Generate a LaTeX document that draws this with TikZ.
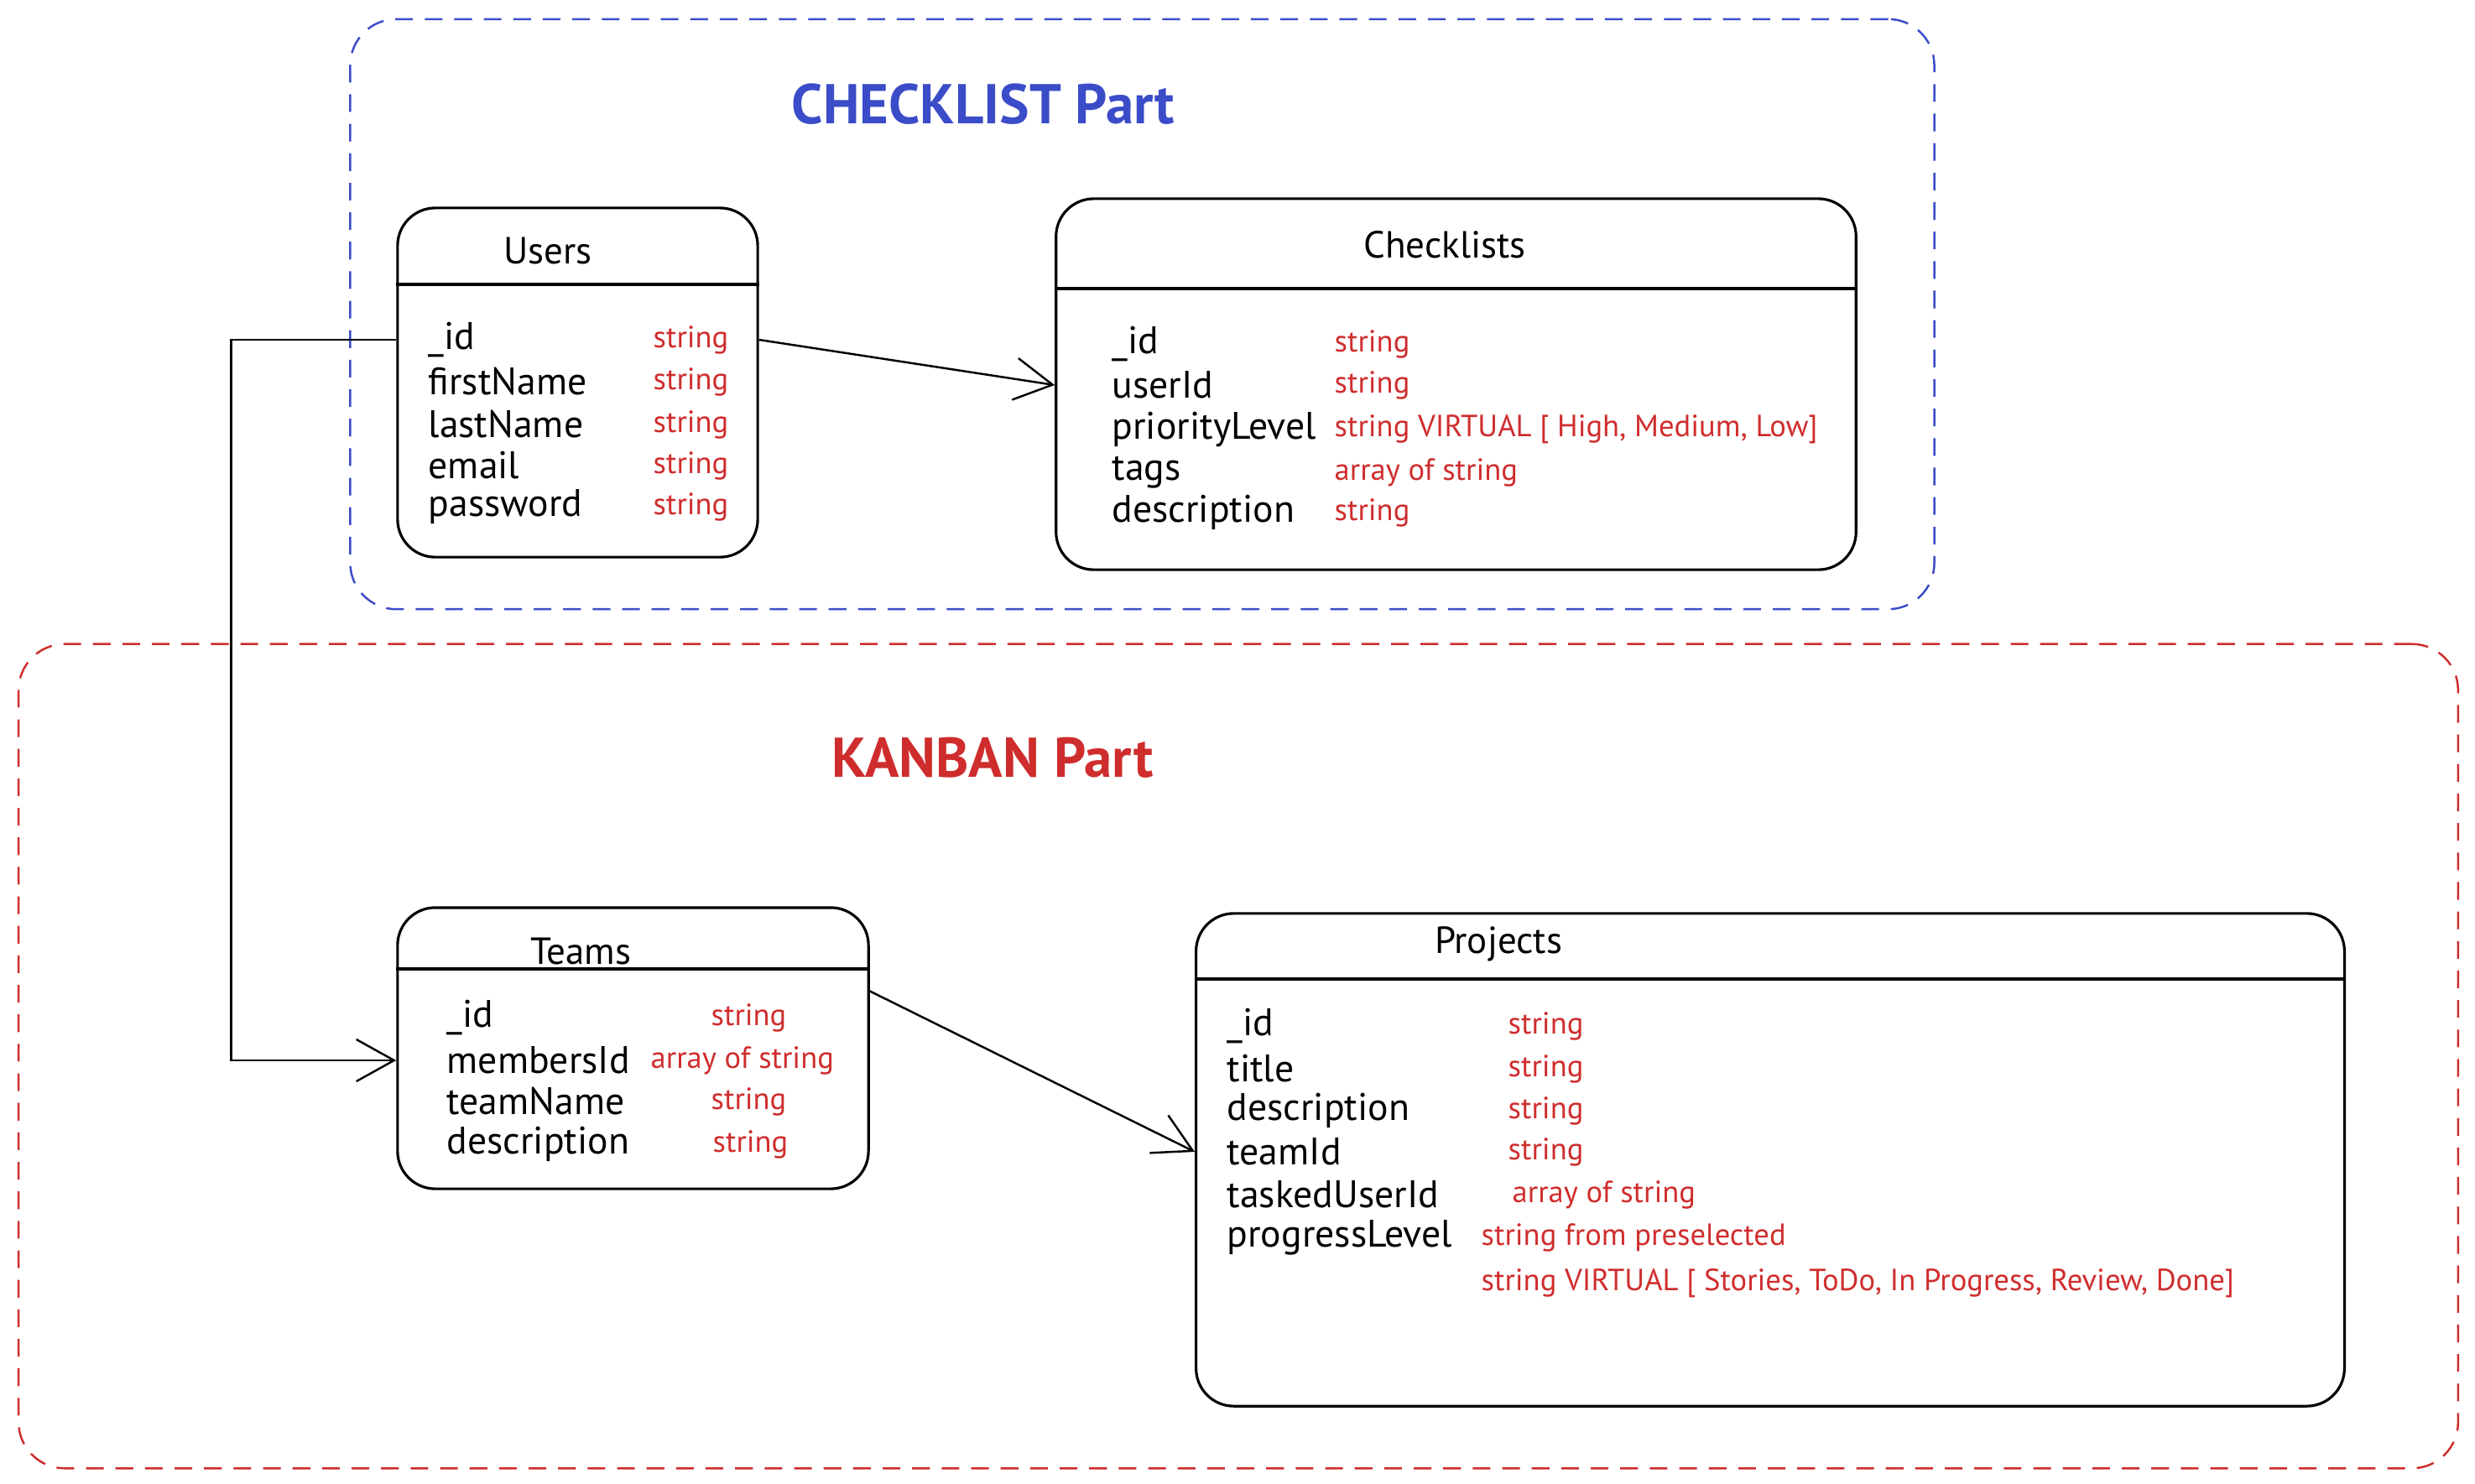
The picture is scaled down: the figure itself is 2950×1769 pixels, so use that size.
\documentclass[tikz,border=0pt]{standalone}
\usepackage{fontspec}
\setmainfont{PT Sans}
\usetikzlibrary{arrows.meta,positioning}
\definecolor{chkblue}{HTML}{3B4CC8}
\definecolor{kanred}{HTML}{CF2D2D}
\tikzset{
  partframe/.style={draw=#1, line width=0.7pt, dash pattern=on 6pt off 4pt, rounded corners=5.5mm, inner sep=0pt},
  parttitle/.style={font=\fontsize{19}{22}\selectfont\bfseries},
  tbl/.style={draw, line width=0.9pt, rounded corners=4.5mm, inner sep=0pt},
  hdr/.style={line width=1.1pt},
  ttl/.style={font=\fontsize{12.8}{15}\selectfont},
  fld/.style={anchor=west, inner sep=0pt, font=\fontsize{13}{15}\selectfont},
  typ/.style={anchor=west, inner sep=0pt, text=kanred, font=\fontsize{10.4}{12}\selectfont},
  link/.style={line width=0.7pt, -{Straight Barb[length=4.5mm,width=5mm]}}
}
\begin{document}
\begin{tikzpicture}[x=0.01cm, y=-0.01cm]
  \useasboundingbox (0,0) rectangle (2950,1769);
  % the two parts
  \node[partframe=chkblue, minimum width=18.87cm, minimum height=7.03cm] (chkframe) at (1361.5,374.5) {};
  \node[partframe=kanred, minimum width=29.06cm, minimum height=9.82cm] (kanframe) at (1476,1259) {};
  \node[parttitle, text=chkblue] (chktitle) at (1172,124) {CHECKLIST Part};
  \node[parttitle, text=kanred] (kantitle) at (1183,903) {KANBAN Part};

  % Users
  \node[tbl, minimum width=4.29cm, minimum height=4.16cm] (users) at (688.5,456) {};
  \node[ttl] (userstitle) at (653,299) {Users};
  \draw[hdr] (users.west |- 0,339) -- (users.east |- 0,339);
  \foreach \f/\t/\y [count=\i] in {\_id/string/405, firstName/string/455, lastName/string/506, email/string/555, password/string/604}{
    \node[fld] (u\i) at (510,\y) {\f};
    \node[typ] (ut\i) at (778,\y) {\t};
  }

  % Checklists
  \node[tbl, minimum width=9.53cm, minimum height=4.42cm] (checklists) at (1735.5,458) {};
  \node[ttl] (checkliststitle) at (1722,292) {Checklists};
  \draw[hdr] (checklists.west |- 0,344) -- (checklists.east |- 0,344);
  \foreach \f/\t/\y [count=\i] in {\_id/string/410, userId/string/459, priorityLevel/{string VIRTUAL [ High, Medium, Low]}/512, tags/array of string/563, description/string/611}{
    \node[fld] (c\i) at (1325,\y) {\f};
    \node[typ] (ct\i) at (1590,\y) {\t};
  }

  % Teams
  \node[tbl, minimum width=5.61cm, minimum height=3.35cm] (teams) at (754.5,1249.5) {};
  \node[ttl] (teamstitle) at (692,1134) {Teams};
  \draw[hdr] (teams.west |- 0,1155) -- (teams.east |- 0,1155);
  \foreach \f/\t/\y/\x [count=\i] in {\_id/string/1213/847, membersId/array of string/1264/775, teamName/string/1313/847, description/string/1364/849}{
    \node[fld] (t\i) at (532,\y) {\f};
    \node[typ] (tt\i) at (\x,\y) {\t};
  }

  % Projects
  \node[tbl, minimum width=13.68cm, minimum height=5.87cm] (projects) at (2110,1382.5) {};
  \node[ttl] (projectstitle) at (1786,1125) {Projects};
  \draw[hdr] (projects.west |- 0,1167) -- (projects.east |- 0,1167);
  \foreach \f/\t/\y/\x [count=\i] in {\_id/string/1223/1797, title/string/1274/1797, description/string/1324/1797, teamId/string/1373/1797, taskedUserId/array of string/1424/1802, progressLevel/string from preselected/1475/1765}{
    \node[fld] (p\i) at (1462,\y) {\f};
    \node[typ] (pt\i) at (\x,\y) {\t};
  }
  \node[typ] (pt7) at (1765,1530) {string VIRTUAL [ Stories, ToDo, In Progress, Review, Done]};

  % relations
  \draw[link] (users.east |- u1) -- (checklists.west |- c2);
  \draw[link] (users.west |- u1) -- ++(-197,0) |- (teams.west |- t2);
  \draw[link] ([yshift=6.8mm]teams.east) -- (projects.west |- p4);
\end{tikzpicture}
\end{document}
